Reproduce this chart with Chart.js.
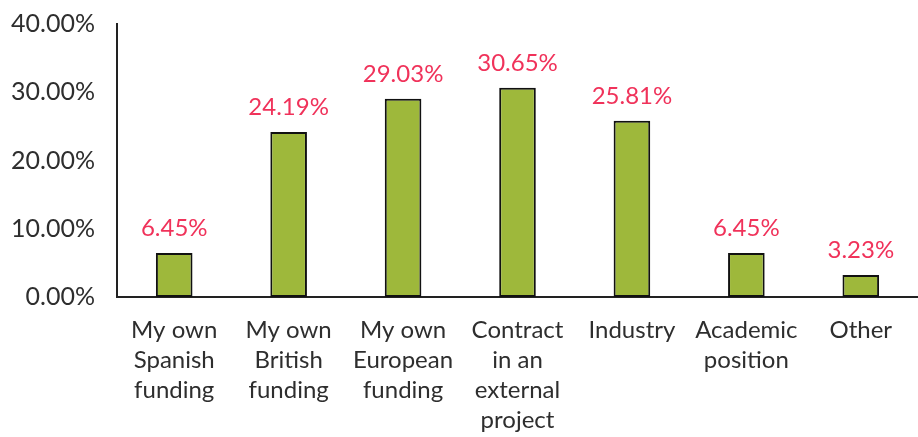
<!DOCTYPE html>
<html>
<head>
<meta charset="utf-8">
<script src="https://cdn.jsdelivr.net/npm/chart.js@4.4.0/dist/chart.umd.min.js"></script>
<style>
  html, body { margin: 0; padding: 0; background: #fff; }
  #wrap { width: 918px; height: 437px; position: relative; }
</style>
</head>
<body>
<div id="wrap"><canvas id="fundingChart"></canvas></div>
<script>
// Categories and values
const categories = [
    ['My own', 'Spanish', 'funding'],
    ['My own', 'British', 'funding'],
    ['My own', 'European', 'funding'],
    ['Contract', 'in an', 'external', 'project'],
    ['Industry'],
    ['Academic', 'position'],
    ['Other']
];
const shares = [6.45, 24.19, 29.03, 30.65, 25.81, 6.45, 3.23];
const yTicks = [0, 10, 20, 30, 40];

const fontFamily = 'Lato, "Open Sans", sans-serif';

// Draws the percentage above each bar (no datalabels plugin available offline)
const valueLabels = {
    id: 'valueLabels',
    afterDatasetsDraw(chart) {
        const ctx = chart.ctx;
        const meta = chart.getDatasetMeta(0);
        ctx.save();
        ctx.fillStyle = '#F0325A';
        ctx.font = '24px ' + fontFamily;
        ctx.textAlign = 'center';
        ctx.textBaseline = 'middle';
        meta.data.forEach((bar, i) => {
            ctx.fillText(shares[i].toFixed(2) + '%', bar.x, bar.y - 25);
        });
        ctx.restore();
    }
};

new Chart(document.getElementById('fundingChart').getContext('2d'), {
    type: 'bar',
    data: {
        labels: categories,
        datasets: [{
            data: shares,
            backgroundColor: '#9EB83B',
            borderColor: '#111',
            borderWidth: 2,
            borderSkipped: false,
            barPercentage: 0.32,
            categoryPercentage: 1
        }]
    },
    options: {
        responsive: true,
        maintainAspectRatio: false,
        animation: false,
        layout: { padding: { top: 24, right: 0, left: 0, bottom: 0 } },
        plugins: {
            legend: { display: false },
            tooltip: { enabled: false }
        },
        scales: {
            x: {
                afterFit(scale) { scale.height = 140; },
                grid: { display: false, drawTicks: false },
                border: { color: '#222', width: 2 },
                ticks: {
                    color: '#2E2E2E',
                    font: { family: fontFamily, size: 24, lineHeight: 1.25 },
                    padding: 18,
                    maxRotation: 0,
                    autoSkip: false
                }
            },
            y: {
                min: 0,
                max: 40,
                afterBuildTicks(scale) {
                    scale.ticks = yTicks.map(v => ({ value: v }));
                },
                afterFit(scale) {
                    scale.width = 117;
                    scale.paddingTop = 0;
                },
                grid: { display: false, drawTicks: false },
                border: { color: '#222', width: 2 },
                ticks: {
                    color: '#2E2E2E',
                    font: { family: fontFamily, size: 25 },
                    padding: 22,
                    callback: v => v.toFixed(2) + '%'
                }
            }
        }
    },
    plugins: [valueLabels]
});
</script>
</body>
</html>
